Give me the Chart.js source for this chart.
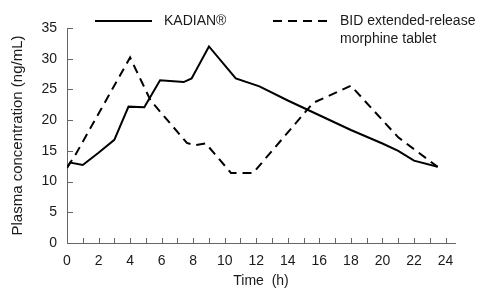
<!DOCTYPE html>
<html>
<head>
<meta charset="utf-8">
<script src="https://cdn.jsdelivr.net/npm/chart.js@4.4.1/dist/chart.umd.min.js"></script>
<style>
	body { margin: 0; background: #fff; }
	#wrap { position: relative; width: 484px; height: 288px; }
</style>
</head>
<body>
<div id="wrap"><canvas id="chart" width="484" height="288"></canvas></div>
<script>
// values (time in h, concentration in ng/mL)
const kadianTime = [0, 0.2, 1, 2, 3, 3.9, 4.9, 5.9, 7.4, 7.9, 9, 10.7, 12.2, 14, 16, 18, 20, 21, 22, 23.5];
const kadianConc = [12.2, 13.1, 12.7, 14.7, 16.8, 22.2, 22.1, 26.5, 26.2, 26.8, 32, 26.8, 25.5, 23.2, 20.8, 18.4, 16.2, 15.0, 13.4, 12.4];

const bidTime = [0, 0.5, 4, 5.3, 7.6, 8.1, 8.8, 10.4, 11.8, 15.6, 18, 21, 23.5];
const bidConc = [12.3, 14.2, 30.2, 23.2, 16.3, 15.9, 16.2, 11.4, 11.4, 22.8, 25.6, 17.2, 12.4];

const seriesLabels = ['KADIAN®', ['BID extended-release', 'morphine tablet']];
const xTitle = 'Time  (h)';
const yTitle = 'Plasma concentration (ng/mL)';

Chart.defaults.font.family = '"Liberation Sans", Arial, sans-serif';
Chart.defaults.font.size = 14;
Chart.defaults.color = '#1a1a1a';

const axisColor = '#666';

// tick marks pointing into the plot, like the original figure
const innerTicks = {
	id: 'innerTicks',
	afterDraw(chart) {
		const ctx = chart.ctx;
		const xs = chart.scales.x;
		const ys = chart.scales.y;
		ctx.save();
		ctx.strokeStyle = axisColor;
		ctx.lineWidth = 1;
		ctx.beginPath();
		xs.ticks.forEach(t => {
			const px = Math.round(xs.getPixelForValue(t.value)) + 0.5;
			ctx.moveTo(px, ys.bottom);
			ctx.lineTo(px, ys.bottom - 5);
		});
		ys.ticks.forEach(t => {
			const py = Math.round(ys.getPixelForValue(t.value)) + 0.5;
			ctx.moveTo(xs.left, py);
			ctx.lineTo(xs.left + 6, py);
		});
		ctx.stroke();
		ctx.restore();
	}
};

// legend drawn across the top
const topLegend = {
	id: 'topLegend',
	afterDraw(chart) {
		const ctx = chart.ctx;
		ctx.save();
		ctx.strokeStyle = '#000';
		ctx.lineWidth = 2;
		ctx.beginPath();
		ctx.moveTo(95, 21);
		ctx.lineTo(152, 21);
		ctx.stroke();
		ctx.setLineDash([9, 6]);
		ctx.beginPath();
		ctx.moveTo(273, 21);
		ctx.lineTo(333, 21);
		ctx.stroke();
		ctx.setLineDash([]);
		ctx.fillStyle = '#1a1a1a';
		ctx.font = '14px "Liberation Sans", Arial, sans-serif';
		ctx.textBaseline = 'middle';
		ctx.fillText(seriesLabels[0], 164, 21);
		ctx.fillText(seriesLabels[1][0], 340, 21);
		ctx.fillText(seriesLabels[1][1], 340, 39);
		ctx.restore();
	}
};

const ctx = document.getElementById('chart').getContext('2d');
const chart = new Chart(ctx, {
	type: 'line',
	data: {
		datasets: [{
			label: 'KADIAN®',
			data: kadianTime.map((t, i) => ({ x: t, y: kadianConc[i] })),
			borderColor: '#000',
			borderWidth: 2,
			pointRadius: 0,
			tension: 0,
			fill: false
		}, {
			label: 'BID extended-release morphine tablet',
			data: bidTime.map((t, i) => ({ x: t, y: bidConc[i] })),
			borderColor: '#000',
			borderWidth: 2,
			borderDash: [9, 6],
			pointRadius: 0,
			tension: 0,
			fill: false
		}]
	},
	options: {
		responsive: false,
		animation: false,
		layout: {
			padding: { top: 28, right: 29, left: 9, bottom: 0 }
		},
		plugins: {
			legend: { display: false },
			tooltip: { enabled: false }
		},
		scales: {
			x: {
				type: 'linear',
				min: 0,
				max: 24.6,
				grid: { display: false, drawTicks: false },
				border: { display: true, color: axisColor, width: 1 },
				ticks: {
					stepSize: 1,
					includeBounds: false,
					autoSkip: false,
					maxRotation: 0,
					padding: 10,
					callback: v => (v % 2 === 0 ? String(v) : '')
				},
				title: {
					display: true,
					text: xTitle,
					padding: { top: 0, bottom: -2 }
				},
				afterFit: s => { s.height = 45; }
			},
			y: {
				min: 0,
				max: 35,
				grid: { display: false, drawTicks: false },
				border: { display: true, color: axisColor, width: 1 },
				ticks: {
					stepSize: 5,
					padding: 10
				},
				title: {
					display: true,
					text: yTitle,
					font: { size: 15 },
					padding: { top: 0, bottom: 2 }
				},
				afterFit: s => { s.width = 58; }
			}
		}
	},
	plugins: [innerTicks, topLegend]
});
</script>
</body>
</html>
